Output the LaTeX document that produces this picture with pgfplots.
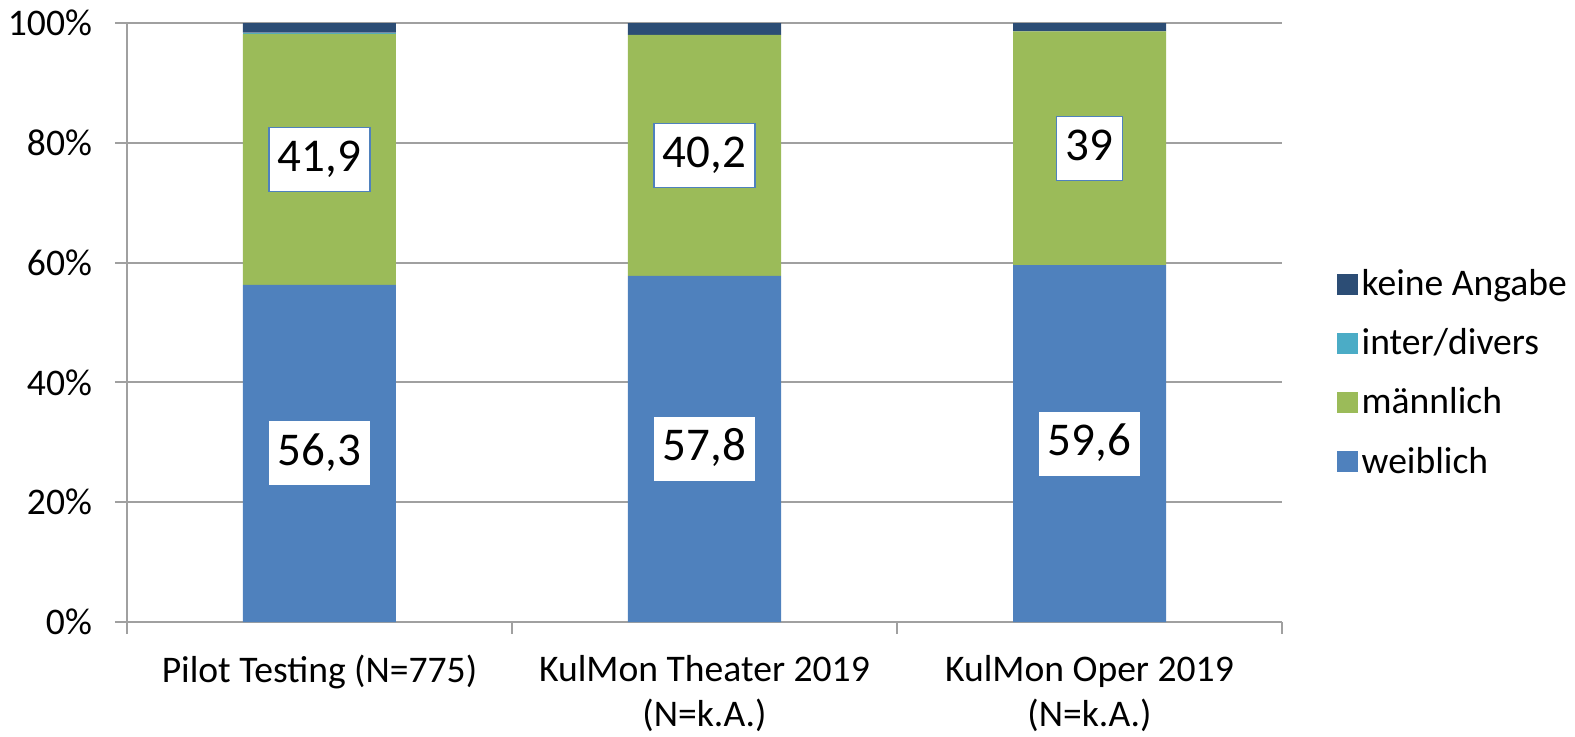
\documentclass[border=0pt]{standalone}
\usepackage{pgfplots}
\pgfplotsset{compat=1.18}
\usepackage{fontspec}
\setmainfont{Carlito}
\definecolor{cW}{HTML}{4F81BD}
\definecolor{cM}{HTML}{9BBB59}
\definecolor{cI}{HTML}{4BACC6}
\definecolor{cK}{HTML}{2C4D75}
\definecolor{cG}{HTML}{A0A0A0}
\begin{document}
\begin{tikzpicture}
\path[use as bounding box] (-63.5pt,-57pt) rectangle (724pt,311pt);
\begin{axis}[
  scale only axis,
  width=577.5pt, height=299.5pt,
  ybar stacked,
  bar width=76.5pt,
  xmin=-0.5, xmax=2.5,
  ymin=0, ymax=100,
  xtick={0,1,2},
  xticklabels={{Pilot Testing (N=775)},{KulMon Theater 2019\\(N=k.A.)},{KulMon Oper 2019\\(N=k.A.)}},
  minor xtick={-0.5,0.5,1.5,2.5},
  major x tick style={draw=none},
  minor x tick style={cG, line width=1pt},
  minor tick length=6pt,
  ytick={0,20,40,60,80,100},
  yticklabel={\pgfmathprintnumber{\tick}\%},
  /pgf/number format/assume math mode=true,
  tick align=outside,
  major tick length=6pt,
  y tick style={cG, line width=1pt},
  ymajorgrids,
  grid style={cG, line width=1pt},
  axis x line*=bottom,
  axis y line*=left,
  axis line style={cG, line width=1pt},
  x axis line style={-},
  y axis line style={-},
  tick label style={font=\fontsize{18.8}{22.5}\selectfont, black},
  xticklabel style={align=center, yshift=-7pt},
  yticklabel style={xshift=-8pt},
  reverse legend,
  legend style={at={(1.047,0.416)}, anchor=west, draw=none, fill=none,
    font=\fontsize{18.8}{22.5}\selectfont, row sep=11pt, inner sep=0pt},
  legend cell align=left,
  legend image code/.code={\fill[#1] (0pt,-5.25pt) rectangle (10.5pt,5.25pt);},
  every node near coord/.append style={anchor=center,
    font=\fontsize{23.5}{27}\selectfont, fill=white, text=black, inner xsep=4.5pt,
    text height=15pt, text depth=3pt, inner ysep=7pt},
]
\addplot[fill=cW, draw=none, nodes near coords, point meta=explicit symbolic]
  coordinates {(0,56.3)[56,3] (1,57.8)[57,8] (2,59.6)[59,6]};
\addlegendentry{weiblich}
\addplot[fill=cM, draw=none, nodes near coords, point meta=explicit symbolic,
  every node near coord/.append style={draw=cW, line width=0.6pt}]
  coordinates {(0,41.9)[41,9] (1,40.2)[40,2] (2,39.0)[39]};
\addlegendentry{männlich}
\addplot[fill=cI, draw=none] coordinates {(0,0.2) (1,0) (2,0)};
\addlegendentry{inter/divers}
\addplot[fill=cK, draw=none] coordinates {(0,1.6) (1,2.0) (2,1.4)};
\addlegendentry{keine Angabe}
\end{axis}
\end{tikzpicture}
\end{document}
